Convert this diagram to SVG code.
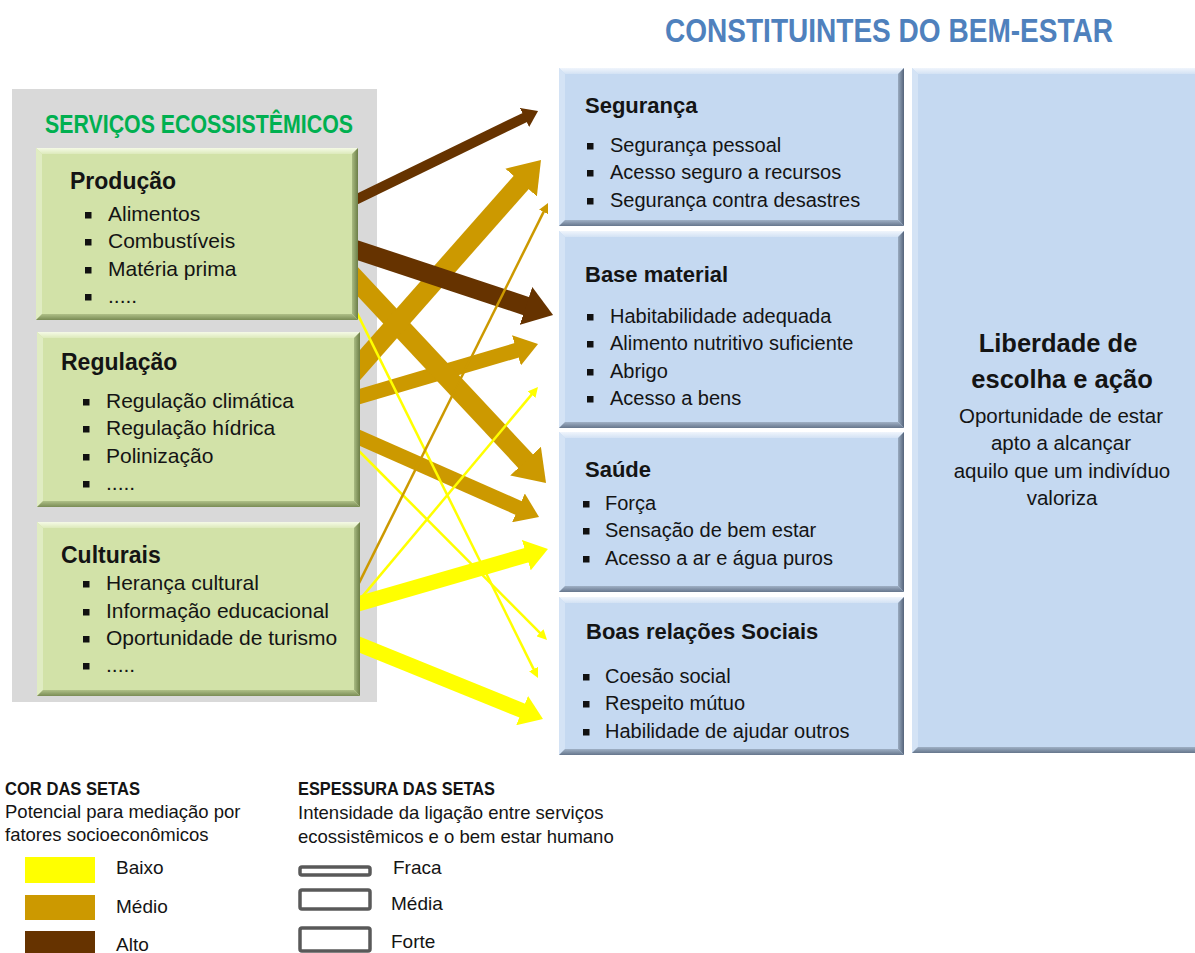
<svg xmlns="http://www.w3.org/2000/svg" width="1195" height="953" viewBox="0 0 1195 953">
<style>
text{font-family:"Liberation Sans",Arial,sans-serif;fill:#141414}
.h{font-weight:bold;font-size:23px}
.hb{font-weight:bold;font-size:22px}
.li{font-size:21px}
.ri{font-size:20px}
.gf{fill:#D2E2A8}.gt{fill:url(#gT)}.gl{fill:#E0ECC2}.gr{fill:url(#gR)}.gb{fill:url(#gB)}
.bf{fill:#C5D9F1}.bt{fill:url(#bT)}.bl{fill:#D4E3F5}.br{fill:url(#bR)}.bb{fill:url(#bB)}
.bu{fill:#111}
.lg{font-size:18.5px}
.lgh{font-size:18px;font-weight:bold}
.ll{font-size:19px}
.ar{fill:none;stroke-linecap:butt}
.y{stroke:#FFFF00}.g{stroke:#CC9900}.d{stroke:#663300}
.tk{stroke-width:20}.md{stroke-width:15}.tn{stroke-width:2.5}
.sw{fill:#fff;stroke:#595959;stroke-width:3.5}
</style>
<defs>
<linearGradient id="gT" x1="0" y1="0" x2="0" y2="1"><stop offset="0" stop-color="#F5FAE6"/><stop offset="1" stop-color="#DDEABB"/></linearGradient>
<linearGradient id="gR" x1="0" y1="0" x2="1" y2="0"><stop offset="0" stop-color="#A9BB82"/><stop offset="1" stop-color="#6C7E47"/></linearGradient>
<linearGradient id="gB" x1="0" y1="0" x2="0" y2="1"><stop offset="0" stop-color="#AFC087"/><stop offset="1" stop-color="#7A8C55"/></linearGradient>
<linearGradient id="bT" x1="0" y1="0" x2="0" y2="1"><stop offset="0" stop-color="#F0F5FC"/><stop offset="1" stop-color="#D3E2F4"/></linearGradient>
<linearGradient id="bR" x1="0" y1="0" x2="1" y2="0"><stop offset="0" stop-color="#9AABC0"/><stop offset="1" stop-color="#55647A"/></linearGradient>
<linearGradient id="bB" x1="0" y1="0" x2="0" y2="1"><stop offset="0" stop-color="#9FB0C5"/><stop offset="1" stop-color="#66768C"/></linearGradient>
<marker id="mY" viewBox="0 0 10 10" refX="1" refY="5" markerWidth="1.5" markerHeight="2.1" orient="auto" preserveAspectRatio="none"><path d="M0,0 L10,5 L0,10 z" fill="#FFFF00"/></marker>
<marker id="mG" viewBox="0 0 10 10" refX="1" refY="5" markerWidth="1.5" markerHeight="2.1" orient="auto" preserveAspectRatio="none"><path d="M0,0 L10,5 L0,10 z" fill="#CC9900"/></marker>
<marker id="mD" viewBox="0 0 10 10" refX="1" refY="5" markerWidth="1.5" markerHeight="2.1" orient="auto" preserveAspectRatio="none"><path d="M0,0 L10,5 L0,10 z" fill="#663300"/></marker>
<marker id="tY" viewBox="0 0 10 10" refX="1" refY="5" markerWidth="4" markerHeight="4" orient="auto" preserveAspectRatio="none"><path d="M0,0 L10,5 L0,10 z" fill="#FFFF00"/></marker>
<marker id="tG" viewBox="0 0 10 10" refX="1" refY="5" markerWidth="4" markerHeight="4" orient="auto" preserveAspectRatio="none"><path d="M0,0 L10,5 L0,10 z" fill="#CC9900"/></marker>
</defs>
<rect width="1195" height="953" fill="#fff"/>
<rect x="12" y="89" width="365" height="613" fill="#D9D9D9"/>
<text x="45" y="133" font-size="25" font-weight="bold" style="fill:#00B050" textLength="308" lengthAdjust="spacingAndGlyphs">SERVIÇOS ECOSSISTÊMICOS</text>
<text x="665" y="42" font-size="33" font-weight="bold" style="fill:#4F81BD" textLength="448" lengthAdjust="spacingAndGlyphs">CONSTITUINTES DO BEM-ESTAR</text>

<g id="connectors">
<line class="ar y md" x1="350" y1="606.3" x2="528.5" y2="554.6" marker-end="url(#mY)"/>
<line class="ar y md" x1="350" y1="640.8" x2="524.2" y2="711.4" marker-end="url(#mY)"/>
<line class="ar g md" x1="350" y1="433.5" x2="520.5" y2="508.8" marker-end="url(#mG)"/>
<line class="ar g md" x1="350" y1="399.4" x2="518.6" y2="349.7" marker-end="url(#mG)"/>
<line class="ar g tk" x1="350" y1="273.4" x2="527.6" y2="463.3" marker-end="url(#mG)"/>
<line class="ar g tk" x1="350" y1="376.3" x2="523.1" y2="180.3" marker-end="url(#mG)"/>
<line class="ar d" stroke-width="10" x1="350" y1="202.4" x2="525.9" y2="116.9" marker-end="url(#mD)"/>
<line class="ar d" stroke-width="19" x1="350" y1="247.7" x2="528.7" y2="306.9" marker-end="url(#mD)"/>
<line class="ar y tn" x1="352" y1="302.9" x2="534" y2="669.9" marker-end="url(#tY)"/>
<line class="ar y tn" x1="352" y1="444" x2="540.7" y2="633.6" marker-end="url(#tY)"/>
<line class="ar y tn" x1="352" y1="608.9" x2="532.2" y2="393.9" marker-end="url(#tY)"/>
<line class="ar g tn" x1="352" y1="597.1" x2="544" y2="211.1" marker-end="url(#tG)"/>
</g>

<g id="producao">
<rect class="gf" x="36" y="148" width="322" height="172"/>
<polygon class="gt" points="36,148 358,148 352,154 42,154"/>
<polygon class="gl" points="36,148 42,154 42,314 36,320"/>
<polygon class="gr" points="358,148 358,320 352,314 352,154"/>
<polygon class="gb" points="36,320 42,314 352,314 358,320"/>
<text class="h" x="70" y="189">Produção</text>
<rect class="bu" x="85" y="212" width="6.5" height="6.5"/><text class="li" x="108" y="221">Alimentos</text>
<rect class="bu" x="85" y="239" width="6.5" height="6.5"/><text class="li" x="108" y="248">Combustíveis</text>
<rect class="bu" x="85" y="267" width="6.5" height="6.5"/><text class="li" x="108" y="276">Matéria prima</text>
<rect class="bu" x="85" y="294" width="6.5" height="6.5"/><text class="li" x="108" y="303">.....</text>
</g>

<g id="regulacao">
<rect class="gf" x="37" y="332" width="323" height="175"/>
<polygon class="gt" points="37,332 360,332 354,338 43,338"/>
<polygon class="gl" points="37,332 43,338 43,501 37,507"/>
<polygon class="gr" points="360,332 360,507 354,501 354,338"/>
<polygon class="gb" points="37,507 43,501 354,501 360,507"/>
<text class="h" x="61" y="370">Regulação</text>
<rect class="bu" x="83" y="399" width="6.5" height="6.5"/><text class="li" x="106" y="408">Regulação climática</text>
<rect class="bu" x="83" y="426" width="6.5" height="6.5"/><text class="li" x="106" y="435">Regulação hídrica</text>
<rect class="bu" x="83" y="454" width="6.5" height="6.5"/><text class="li" x="106" y="463">Polinização</text>
<rect class="bu" x="83" y="481" width="6.5" height="6.5"/><text class="li" x="106" y="490">.....</text>
</g>

<g id="culturais">
<rect class="gf" x="37" y="522" width="323" height="174"/>
<polygon class="gt" points="37,522 360,522 354,528 43,528"/>
<polygon class="gl" points="37,522 43,528 43,690 37,696"/>
<polygon class="gr" points="360,522 360,696 354,690 354,528"/>
<polygon class="gb" points="37,696 43,690 354,690 360,696"/>
<text class="h" x="61" y="563">Culturais</text>
<rect class="bu" x="83" y="581" width="6.5" height="6.5"/><text class="li" x="106" y="590">Herança cultural</text>
<rect class="bu" x="83" y="609" width="6.5" height="6.5"/><text class="li" x="106" y="618">Informação educacional</text>
<rect class="bu" x="83" y="636" width="6.5" height="6.5"/><text class="li" x="106" y="645">Oportunidade de turismo</text>
<rect class="bu" x="83" y="663" width="6.5" height="6.5"/><text class="li" x="106" y="672">.....</text>
</g>

<g id="seguranca">
<rect class="bf" x="559" y="68" width="345" height="158"/>
<polygon class="bt" points="559,68 904,68 898,74 565,74"/>
<polygon class="bl" points="559,68 565,74 565,220 559,226"/>
<polygon class="br" points="904,68 904,226 898,220 898,74"/>
<polygon class="bb" points="559,226 565,220 898,220 904,226"/>
<text class="hb" x="585" y="113">Segurança</text>
<rect class="bu" x="587" y="143" width="6.5" height="6.5"/><text class="ri" x="610" y="152">Segurança pessoal</text>
<rect class="bu" x="587" y="170" width="6.5" height="6.5"/><text class="ri" x="610" y="179">Acesso  seguro a recursos</text>
<rect class="bu" x="587" y="198" width="6.5" height="6.5"/><text class="ri" x="610" y="207">Segurança contra desastres</text>
</g>

<g id="base-material">
<rect class="bf" x="559" y="231" width="345" height="197"/>
<polygon class="bt" points="559,231 904,231 898,237 565,237"/>
<polygon class="bl" points="559,231 565,237 565,422 559,428"/>
<polygon class="br" points="904,231 904,428 898,422 898,237"/>
<polygon class="bb" points="559,428 565,422 898,422 904,428"/>
<text class="hb" x="585" y="282">Base material</text>
<rect class="bu" x="587" y="314" width="6.5" height="6.5"/><text class="ri" x="610" y="323">Habitabilidade adequada</text>
<rect class="bu" x="587" y="341" width="6.5" height="6.5"/><text class="ri" x="610" y="350">Alimento nutritivo suficiente</text>
<rect class="bu" x="587" y="369" width="6.5" height="6.5"/><text class="ri" x="610" y="378">Abrigo</text>
<rect class="bu" x="587" y="396" width="6.5" height="6.5"/><text class="ri" x="610" y="405">Acesso a bens</text>
</g>

<g id="saude">
<rect class="bf" x="559" y="432" width="345" height="160"/>
<polygon class="bt" points="559,432 904,432 898,438 565,438"/>
<polygon class="bl" points="559,432 565,438 565,586 559,592"/>
<polygon class="br" points="904,432 904,592 898,586 898,438"/>
<polygon class="bb" points="559,592 565,586 898,586 904,592"/>
<text class="hb" x="585" y="477">Saúde</text>
<rect class="bu" x="583" y="501" width="6.5" height="6.5"/><text class="ri" x="605" y="510">Força</text>
<rect class="bu" x="583" y="528" width="6.5" height="6.5"/><text class="ri" x="605" y="537">Sensação de bem estar</text>
<rect class="bu" x="583" y="556" width="6.5" height="6.5"/><text class="ri" x="605" y="565">Acesso a ar e água puros</text>
</g>

<g id="relacoes-sociais">
<rect class="bf" x="559" y="597" width="345" height="158"/>
<polygon class="bt" points="559,597 904,597 898,603 565,603"/>
<polygon class="bl" points="559,597 565,603 565,749 559,755"/>
<polygon class="br" points="904,597 904,755 898,749 898,603"/>
<polygon class="bb" points="559,755 565,749 898,749 904,755"/>
<text class="hb" x="586" y="639">Boas relações Sociais</text>
<rect class="bu" x="583" y="674" width="6.5" height="6.5"/><text class="ri" x="605" y="683">Coesão social</text>
<rect class="bu" x="583" y="701" width="6.5" height="6.5"/><text class="ri" x="605" y="710">Respeito mútuo</text>
<rect class="bu" x="583" y="729" width="6.5" height="6.5"/><text class="ri" x="605" y="738">Habilidade de ajudar outros</text>
</g>

<g id="liberdade">
<rect class="bf" x="912" y="68" width="298" height="685"/>
<polygon class="bt" points="912,68 1210,68 1204,74 918,74"/>
<polygon class="bl" points="912,68 918,74 918,747 912,753"/>
<polygon class="bb" points="912,753 918,747 1204,747 1210,753"/>
<text x="1058" y="352" font-size="25.5" font-weight="bold" text-anchor="middle">Liberdade de</text>
<text x="1062" y="388" font-size="25.5" font-weight="bold" text-anchor="middle">escolha e ação</text>
<text x="1061" y="423" font-size="20.5" text-anchor="middle">Oportunidade  de estar</text>
<text x="1061" y="450" font-size="20.5" text-anchor="middle">apto a  alcançar</text>
<text x="1062" y="478" font-size="20.5" text-anchor="middle">aquilo que um indivíduo</text>
<text x="1062" y="505" font-size="20.5" text-anchor="middle">valoriza</text>
</g>

<g id="legenda-cor">
<text class="lgh" x="5" y="795" textLength="135" lengthAdjust="spacingAndGlyphs">COR DAS SETAS</text>
<text class="lg" x="5" y="818">Potencial para mediação por</text>
<text class="lg" x="5" y="841">fatores socioeconômicos</text>
<rect x="25" y="857" width="70" height="26" fill="#FFFF00"/>
<rect x="25" y="895" width="70" height="25" fill="#CC9900"/>
<rect x="25" y="931" width="70" height="24" fill="#663300"/>
<text class="ll" x="116" y="874">Baixo</text>
<text class="ll" x="116" y="913">Médio</text>
<text class="ll" x="116" y="951">Alto</text>
</g>

<g id="legenda-espessura">
<text class="lgh" x="298" y="795" textLength="197" lengthAdjust="spacingAndGlyphs">ESPESSURA DAS SETAS</text>
<text class="lg" x="298" y="819">Intensidade da ligação entre serviços</text>
<text class="lg" x="298" y="843">ecossistêmicos  e o bem estar humano</text>
<rect class="sw" x="300" y="867" width="70" height="8" rx="2"/>
<rect class="sw" x="300" y="890" width="70" height="19" rx="2"/>
<rect class="sw" x="300" y="928" width="70" height="23" rx="2"/>
<text class="ll" x="393" y="874">Fraca</text>
<text class="ll" x="391" y="910">Média</text>
<text class="ll" x="391" y="948">Forte</text>
</g>
</svg>
